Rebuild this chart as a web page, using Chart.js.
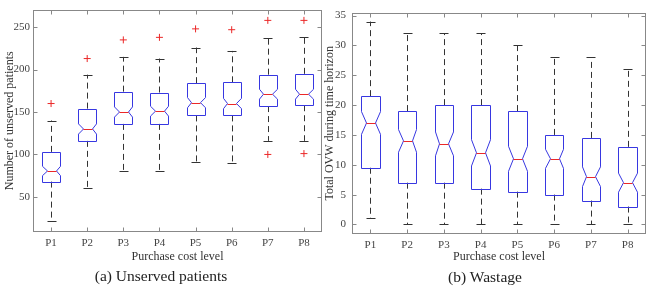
<!DOCTYPE html>
<html>
<head>
<meta charset="utf-8">
<script src="https://cdn.jsdelivr.net/npm/chart.js@4.4.1/dist/chart.umd.min.js"></script>
<style>
body { margin: 0; background: #fff; width: 654px; height: 288px; position: relative; overflow: hidden; font-family: 'Liberation Serif', serif; }
.wrap { position: absolute; top: 0; height: 268px; }
.cap { position: absolute; font-size: 15.5px; color: #222; transform: translateX(-50%); white-space: nowrap; }
</style>
</head>
<body>
<div class="wrap" style="left:0;width:327px"><canvas id="chartA"></canvas></div>
<div class="wrap" style="left:320px;width:334px"><canvas id="chartB"></canvas></div>
<div class="cap" style="left:161px;top:267px">(a) Unserved patients</div>
<div class="cap" style="left:485px;top:268px">(b) Wastage</div>
<script>
// categories
const categories = ['P1', 'P2', 'P3', 'P4', 'P5', 'P6', 'P7', 'P8'];

// (a) unserved patients - box stats
const unsLow = [21, 61, 81, 81, 91, 90, 116, 116];
const unsQ1 = [68, 116, 136, 136, 146, 146, 157, 158];
const unsMedian = [80.5, 130, 150, 151, 161, 160, 171, 171];
const unsQ3 = [103, 154, 174, 173, 184, 185, 194, 195];
const unsHigh = [140, 194, 215, 213, 226, 222, 237, 238];
const unsNotch = [5.5, 6, 6, 5.8, 6, 6.1, 5.8, 5.8];
const unsOutliers = [[160], [213], [235], [238], [248], [247], [258, 100], [258, 101]];
const unsTicks = [50, 100, 150, 200, 250];

// (b) wastage
const wasLow = [1, 0, 0, 0, 0, 0, 0, 0];
const wasQ1 = [9.5, 7, 7, 6, 5.5, 5, 4, 3];
const wasMedian = [17, 14, 13.5, 12, 11, 11, 8, 7];
const wasQ3 = [21.5, 19, 20, 20, 19, 15, 14.5, 13];
const wasHigh = [34, 32, 32, 32, 30, 28, 28, 26];
const wasNotch = [1.9, 1.9, 2.0, 2.2, 2.1, 1.6, 1.65, 1.6];
const wasOutliers = [[], [], [], [], [], [], [], []];
const wasTicks = [0, 5, 10, 15, 20, 25, 30, 35];

const font = 'Liberation Serif';

// draws frame, inner ticks, whiskers and notched boxes
const boxPlugin = {
    id: 'boxes',
    afterDatasetsDraw(chart, args, o) {
        const ctx = chart.ctx;
        const xs = chart.scales.x;
        const ys = chart.scales.y;
        const a = chart.chartArea;
        const px = v => Math.round(xs.getPixelForValue(v)) + 0.5;
        const py = v => ys.getPixelForValue(v);
        ctx.save();
        ctx.lineWidth = 1;
        for (let i = 0; i < o.q1.length; i++) {
            const c = i + 1;
            const xl = px(c - 0.25), xr = px(c + 0.25);
            const nl = px(c - 0.125), nr = px(c + 0.125);
            const cl = px(c - 0.125), cr = px(c + 0.125);
            const xm = px(c);
            // whiskers
            ctx.strokeStyle = '#333';
            ctx.setLineDash([6, 4]);
            ctx.beginPath();
            ctx.moveTo(xm, py(o.q3[i]));
            ctx.lineTo(xm, py(o.high[i]));
            ctx.moveTo(xm, py(o.q1[i]));
            ctx.lineTo(xm, py(o.low[i]));
            ctx.stroke();
            ctx.setLineDash([]);
            ctx.beginPath();
            ctx.moveTo(cl, Math.round(py(o.high[i])) + 0.5);
            ctx.lineTo(cr, Math.round(py(o.high[i])) + 0.5);
            ctx.moveTo(cl, Math.round(py(o.low[i])) + 0.5);
            ctx.lineTo(cr, Math.round(py(o.low[i])) + 0.5);
            ctx.stroke();
            // notched box
            const top = Math.round(py(o.q3[i])) + 0.5;
            const bot = Math.round(py(o.q1[i])) + 0.5;
            const nt = py(o.median[i] + o.notch[i]);
            const nb = py(o.median[i] - o.notch[i]);
            const md = py(o.median[i]);
            ctx.strokeStyle = 'rgb(55,55,225)';
            ctx.beginPath();
            ctx.moveTo(xl, top);
            ctx.lineTo(xr, top);
            ctx.lineTo(xr, nt);
            ctx.lineTo(nr, md);
            ctx.lineTo(xr, nb);
            ctx.lineTo(xr, bot);
            ctx.lineTo(xl, bot);
            ctx.lineTo(xl, nb);
            ctx.lineTo(nl, md);
            ctx.lineTo(xl, nt);
            ctx.closePath();
            ctx.stroke();
            // median
            ctx.strokeStyle = 'rgb(235,40,40)';
            ctx.beginPath();
            ctx.moveTo(nl, Math.round(md) + 0.5);
            ctx.lineTo(nr, Math.round(md) + 0.5);
            ctx.stroke();
        }
        // frame with inward ticks
        ctx.strokeStyle = '#888';
        const L = Math.round(a.left) + 0.5, R = Math.round(a.right) - 0.5;
        const T = Math.round(a.top) + 0.5, B = Math.round(a.bottom) - 0.5;
        ctx.strokeRect(L, T, R - L, B - T);
        ctx.beginPath();
        o.yticks.forEach(v => {
            const y = Math.round(py(v)) + 0.5;
            ctx.moveTo(L, y); ctx.lineTo(L + 4, y);
            ctx.moveTo(R, y); ctx.lineTo(R - 4, y);
        });
        for (let c = 1; c <= o.q1.length; c++) {
            const x = px(c);
            ctx.moveTo(x, B); ctx.lineTo(x, B - 4);
            ctx.moveTo(x, T); ctx.lineTo(x, T + 4);
        }
        ctx.stroke();
        ctx.restore();
    }
};

function outlierPoints(outs) {
    const pts = [];
    outs.forEach((list, i) => list.forEach(v => pts.push({ x: i + 1, y: v })));
    return pts;
}

function makeChart(id, cfg) {
    return new Chart(document.getElementById(id), {
        type: 'scatter',
        data: {
            datasets: [{
                data: outlierPoints(cfg.outliers),
                pointStyle: 'cross',
                radius: 3.5,
                borderColor: 'rgb(235,40,40)',
                borderWidth: 1
            }]
        },
        options: {
            responsive: true,
            maintainAspectRatio: false,
            animation: false,
            layout: { padding: { top: 5, right: cfg.padRight, left: 0, bottom: 0 } },
            plugins: {
                legend: { display: false },
                tooltip: { enabled: false },
                boxes: {
                    low: cfg.low, q1: cfg.q1, median: cfg.median, q3: cfg.q3,
                    high: cfg.high, notch: cfg.notch, yticks: cfg.yticks
                }
            },
            scales: {
                x: {
                    type: 'linear',
                    min: 0.5,
                    max: 8.5,
                    afterBuildTicks: s => { s.ticks = categories.map((c, i) => ({ value: i + 1 })); },
                    afterFit: s => { s.height = cfg.xHeight; },
                    grid: { display: false, drawTicks: false },
                    border: { display: false },
                    ticks: {
                        callback: v => categories[v - 1],
                        padding: 5,
                        color: '#444',
                        font: { family: font, size: 11 },
                        maxRotation: 0
                    },
                    title: {
                        display: true,
                        text: 'Purchase cost level',
                        color: '#333',
                        font: { family: font, size: 12 },
                        padding: { top: 2, bottom: 4 }
                    }
                },
                y: {
                    min: cfg.ymin,
                    max: cfg.ymax,
                    afterBuildTicks: s => { s.ticks = cfg.yticks.map(v => ({ value: v })); },
                    afterFit: s => { s.width = cfg.yWidth; },
                    grid: { display: false, drawTicks: false },
                    border: { display: false },
                    ticks: {
                        padding: cfg.tickPad,
                        color: '#444',
                        font: { family: font, size: 11 }
                    },
                    title: {
                        display: true,
                        text: cfg.ytitle,
                        color: '#333',
                        font: { family: font, size: 12 },
                        padding: { top: 3, bottom: 2 }
                    }
                }
            }
        },
        plugins: [boxPlugin]
    });
}

makeChart('chartA', {
    low: unsLow, q1: unsQ1, median: unsMedian, q3: unsQ3, high: unsHigh,
    notch: unsNotch, outliers: unsOutliers, yticks: unsTicks,
    ymin: 8.6, ymax: 270.7, ytitle: 'Number of unserved patients',
    yWidth: 33, xHeight: 36, padRight: 5, tickPad: 3
});

makeChart('chartB', {
    low: wasLow, q1: wasQ1, median: wasMedian, q3: wasQ3, high: wasHigh,
    notch: wasNotch, outliers: wasOutliers, yticks: wasTicks,
    ymin: -1.6, ymax: 35.5, ytitle: 'Total OVW during time horizon',
    yWidth: 32, xHeight: 34, padRight: 8, tickPad: 6
});
</script>
</body>
</html>
